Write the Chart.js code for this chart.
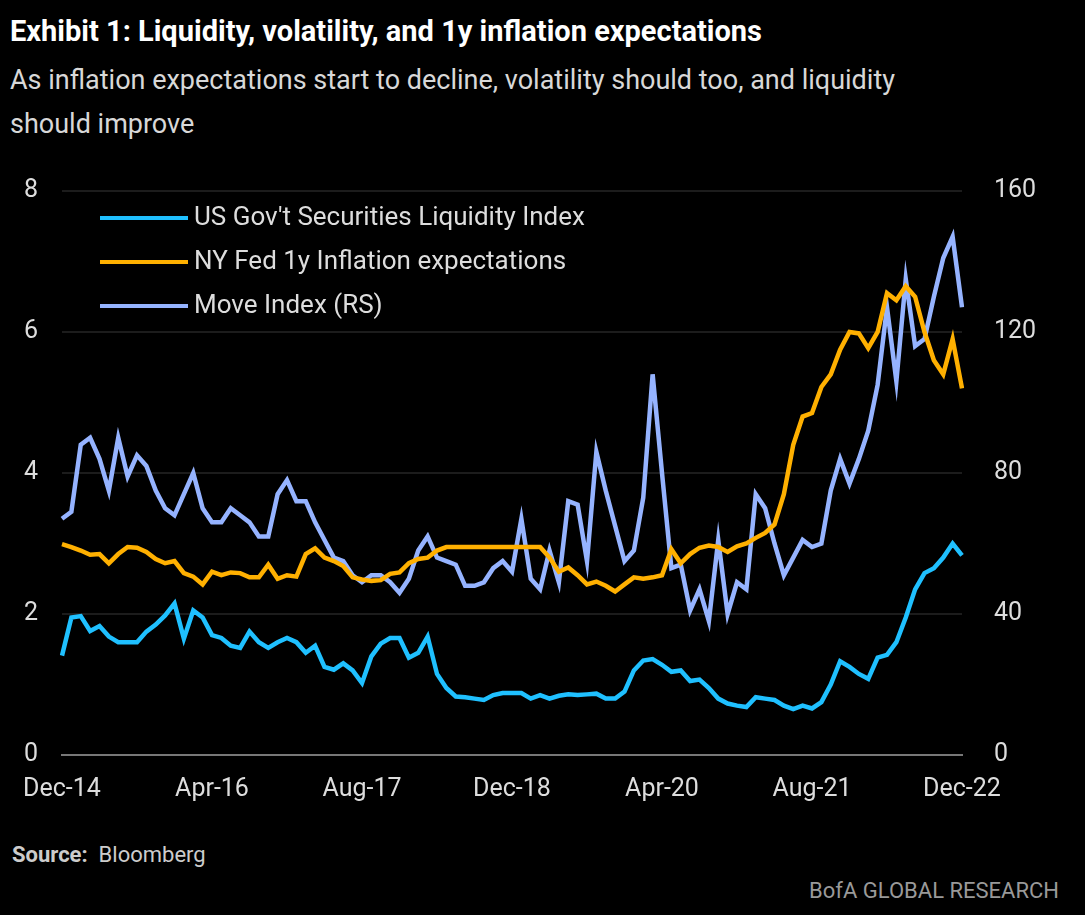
<!DOCTYPE html>
<html><head><meta charset="utf-8">
<script src="https://cdn.jsdelivr.net/npm/chart.js@4"></script>
<style>
body{margin:0;background:#000;width:1085px;height:915px;overflow:hidden;font-family:"Liberation Sans Narrow","Roboto",sans-serif;color:#fff}
#t{position:absolute;left:10px;top:14px;font-size:29px;font-weight:bold}
#s{position:absolute;left:10px;top:58px;font-size:27px;color:#d8d8d8;line-height:44px;width:950px}
#wrap{position:absolute;left:0;top:152px;width:1085px;height:665px}
#leg{position:absolute;left:100px;top:194px;font-size:26px;color:#ddd;line-height:44px}
#leg span.sw{display:inline-block;width:88px;height:4px;vertical-align:middle;margin-right:6px}
#src{position:absolute;left:12px;top:842px;font-size:22px;color:#ccc}
#bofa{position:absolute;right:26px;top:878px;font-size:22px;color:#999}
</style></head><body>
<div id="t">Exhibit 1: Liquidity, volatility, and 1y inflation expectations</div>
<div id="s">As inflation expectations start to decline, volatility should too, and liquidity should improve</div>
<div id="wrap"><canvas id="c"></canvas></div>
<div id="leg"></div>
<div id="src"><b>Source:</b>&nbsp; Bloomberg</div>
<div id="bofa">BofA GLOBAL RESEARCH</div>
<script>
const seriesNames=["US Gov't Securities Liquidity Index","NY Fed 1y Inflation expectations","Move Index (RS)"];
const tickLabels=["Dec-14","Apr-16","Aug-17","Dec-18","Apr-20","Aug-21","Dec-22"];
const liquidity=[1.41,1.95,1.97,1.76,1.83,1.68,1.6,1.6,1.6,1.75,1.85,1.98,
2.15,1.65,2.05,1.95,1.7,1.66,1.55,1.52,1.75,1.6,1.52,1.6,
1.66,1.6,1.45,1.55,1.25,1.21,1.3,1.2,1.02,1.4,1.58,1.66,
1.66,1.38,1.45,1.68,1.15,0.95,0.83,0.82,0.8,0.78,0.85,0.88,
0.88,0.88,0.8,0.85,0.8,0.84,0.86,0.85,0.86,0.87,0.8,0.8,
0.9,1.2,1.34,1.36,1.28,1.18,1.2,1.05,1.07,0.95,0.8,0.73,
0.7,0.68,0.82,0.8,0.78,0.7,0.65,0.7,0.66,0.75,1.0,1.33,
1.25,1.15,1.08,1.38,1.42,1.6,1.95,2.35,2.58,2.65,2.8,3.0,2.83];
const inflation=[2.99,2.95,2.9,2.84,2.85,2.72,2.85,2.95,2.94,2.88,2.78,2.72,
2.75,2.58,2.53,2.42,2.6,2.55,2.59,2.58,2.52,2.52,2.7,2.5,
2.55,2.53,2.85,2.93,2.8,2.75,2.68,2.52,2.49,2.47,2.48,2.57,
2.59,2.72,2.78,2.8,2.9,2.95,2.95,2.95,2.95,2.95,2.95,2.95,
2.95,2.95,2.95,2.95,2.8,2.6,2.66,2.55,2.42,2.46,2.4,2.32,
2.42,2.52,2.5,2.52,2.55,2.92,2.72,2.85,2.94,2.97,2.95,2.88,
2.96,3.0,3.08,3.15,3.27,3.7,4.4,4.8,4.85,5.22,5.4,5.75,
6.0,5.98,5.77,6.0,6.55,6.45,6.65,6.5,6.0,5.6,5.4,5.9,5.2];
const moveIndex=[67,69,88,90,84,75,90,79,85,82,75,70,
68,74,80,70,66,66,70,68,66,62,62,74,
78,72,72,66,61,56,55,51,49,51,51,49,
46,50,58,62,56,55,54,48,48,49,53,55,
52,67,50,47,58,49,72,71,55,86,75,65,
55,58,73,108,80,53,54,41,47,38,61,40,
49,47,74,70,60,51,56,61,59,60,75,84,
77,84,92,105,127,106,135,116,118,130,141,147,127];
const mon=["Jan","Feb","Mar","Apr","May","Jun","Jul","Aug","Sep","Oct","Nov","Dec"];
const labels=liquidity.map((_,i)=>{const m=(11+i)%12,y=14+Math.floor((11+i)/12);return mon[m]+"-"+y;});
const colors=["#1fc0ff","#ffb000","#95b3ff"];
document.getElementById('leg').innerHTML=seriesNames.map((n,i)=>`<div><span class="sw" style="background:${colors[i]}"></span>${n}</div>`).join('');
const tf={family:"Liberation Sans Narrow, Roboto, sans-serif",size:25};
new Chart(document.getElementById('c'),{type:'line',
data:{labels,datasets:[
{label:seriesNames[0],data:liquidity,borderColor:colors[0],yAxisID:'y'},
{label:seriesNames[1],data:inflation,borderColor:colors[1],yAxisID:'y'},
{label:seriesNames[2],data:moveIndex,borderColor:colors[2],yAxisID:'y1'}]},
options:{responsive:true,maintainAspectRatio:false,animation:false,
elements:{point:{radius:0},line:{borderWidth:4.5,tension:0}},
layout:{padding:{top:16,right:0,left:0,bottom:0}},
plugins:{legend:{display:false},tooltip:{enabled:false}},
scales:{
x:{grid:{display:false},border:{display:true,color:'#777',width:2},
 ticks:{autoSkip:false,maxRotation:0,color:'#ddd',font:tf,padding:12,
 callback:(v,i)=>i%16===0?tickLabels[i/16]:null}},
y:{position:'left',min:0,max:8,afterFit:a=>{a.width=62},
 grid:{color:(c)=>c.tick.value===0?'#777':'#1c1c1c',lineWidth:2,drawTicks:false},border:{display:false},
 ticks:{stepSize:2,color:'#ddd',font:tf,padding:24}},
y1:{position:'right',min:0,max:160,afterFit:a=>{a.width=123},
 grid:{display:false},border:{display:false},
 ticks:{stepSize:40,color:'#ddd',font:tf,padding:24}}}}});
</script></body></html>
